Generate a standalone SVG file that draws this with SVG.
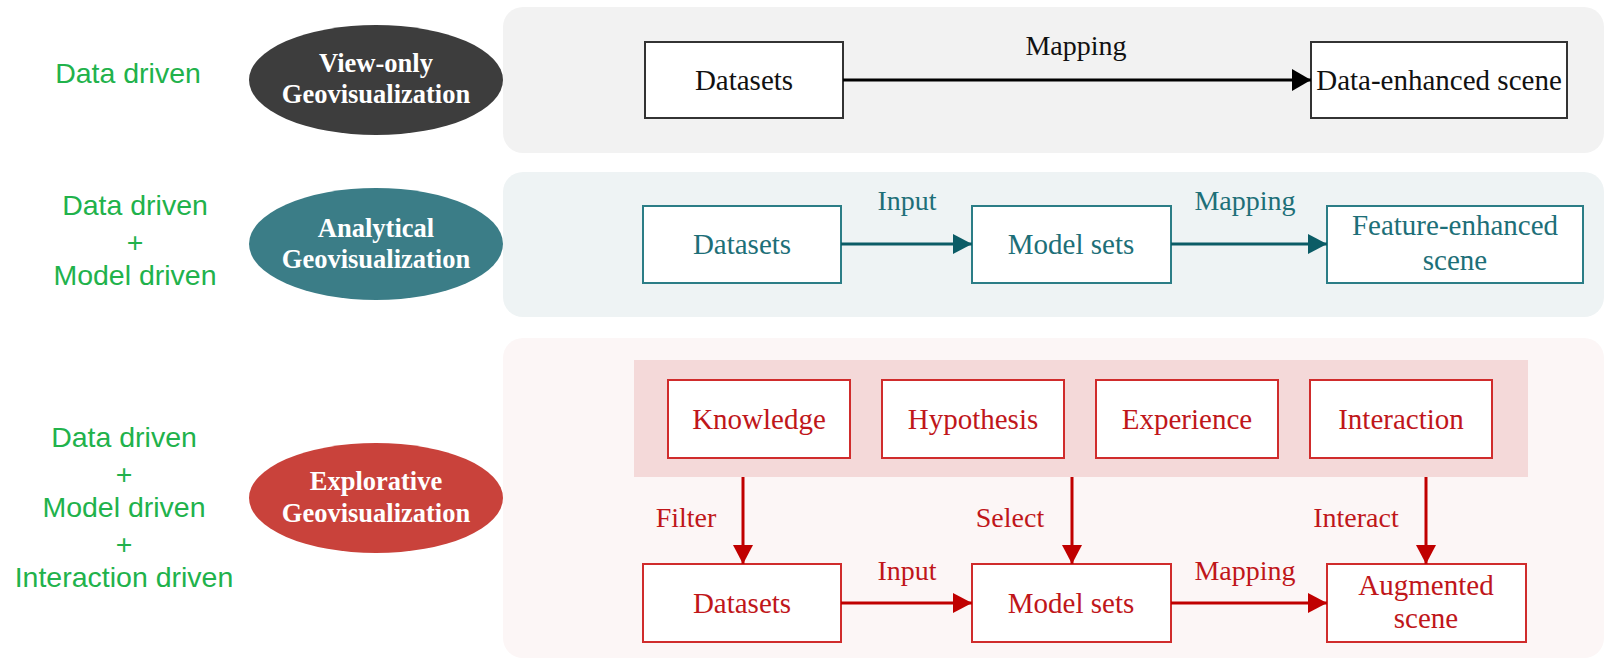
<svg xmlns="http://www.w3.org/2000/svg" width="1605" height="659" viewBox="0 0 1605 659">
<defs>
<marker id="ahK" markerUnits="userSpaceOnUse" markerWidth="20" markerHeight="22" refX="19" refY="11" orient="auto"><path d="M0,0 L19,11 L0,22 z" fill="#000"/></marker>
<marker id="ahT" markerUnits="userSpaceOnUse" markerWidth="20" markerHeight="20" refX="19" refY="10" orient="auto"><path d="M0,0 L19,10 L0,20 z" fill="#0b5c66"/></marker>
<marker id="ahR" markerUnits="userSpaceOnUse" markerWidth="20" markerHeight="20" refX="19" refY="10" orient="auto"><path d="M0,0 L19,10 L0,20 z" fill="#c00000"/></marker>
<style>
.green{font-family:"Liberation Sans",Arial,sans-serif;font-size:28.5px;fill:#21b24b;text-anchor:middle}
.ell{font-family:"Liberation Serif","Times New Roman",serif;font-size:26.5px;font-weight:bold;fill:#fff;text-anchor:middle}
.lbl{font-family:"Liberation Serif","Times New Roman",serif;font-size:29px;text-anchor:middle}
.elbl{font-family:"Liberation Serif","Times New Roman",serif;font-size:28px;text-anchor:middle}
.bK{fill:#fff;stroke:#333;stroke-width:2}
.bT{fill:#fff;stroke:#2b7d86;stroke-width:2}
.bR{fill:#fff;stroke:#d02c2c;stroke-width:2}
.tK{fill:#111}
.tT{fill:#1d6f78}
.tR{fill:#c0161a}
.aK{stroke:#000;stroke-width:3;fill:none}
.aT{stroke:#0b5c66;stroke-width:3;fill:none}
.aR{stroke:#c00000;stroke-width:3;fill:none}
</style>
</defs>
<rect width="1605" height="659" fill="#fff"/>

<g id="panels">
<rect x="503" y="7" width="1101" height="146" rx="20" fill="#f2f2f2"/>
<rect x="503" y="172" width="1101" height="145" rx="20" fill="#eef3f4"/>
<rect x="503" y="338" width="1101" height="320" rx="20" fill="#fcf6f6"/>
<rect x="634" y="360" width="894" height="117" fill="#f4d9d9"/>
</g>

<g id="drivers">
<text class="green" x="128" y="83">Data driven</text>
<text class="green" x="135" y="215">Data driven</text>
<text class="green" x="135" y="252">+</text>
<text class="green" x="135" y="285">Model driven</text>
<text class="green" x="124" y="447">Data driven</text>
<text class="green" x="124" y="484">+</text>
<text class="green" x="124" y="517">Model driven</text>
<text class="green" x="124" y="554">+</text>
<text class="green" x="124" y="587">Interaction driven</text>
</g>

<g id="ell-viewonly">
<ellipse cx="376" cy="80" rx="127" ry="55" fill="#3d3d3d"/>
<text class="ell" x="376" y="72">View-only</text>
<text class="ell" x="376" y="103">Geovisualization</text>
</g>
<g id="ell-analytical">
<ellipse cx="376" cy="244" rx="127" ry="56" fill="#3b7d87"/>
<text class="ell" x="376" y="237">Analytical</text>
<text class="ell" x="376" y="268">Geovisualization</text>
</g>
<g id="ell-explorative">
<ellipse cx="376" cy="498" rx="127" ry="55" fill="#c9423b"/>
<text class="ell" x="376" y="490">Explorative</text>
<text class="ell" x="376" y="522">Geovisualization</text>
</g>

<g id="n1-datasets"><rect class="bK" x="645" y="42" width="198" height="76"/><text class="lbl tK" x="744" y="90">Datasets</text></g>
<g id="n1-scene"><rect class="bK" x="1311" y="42" width="256" height="76"/><text class="lbl tK" x="1439" y="90">Data-enhanced scene</text></g>

<g id="n2-datasets"><rect class="bT" x="643" y="206" width="198" height="77"/><text class="lbl tT" x="742" y="254">Datasets</text></g>
<g id="n2-model"><rect class="bT" x="972" y="206" width="199" height="77"/><text class="lbl tT" x="1071" y="254">Model sets</text></g>
<g id="n2-scene"><rect class="bT" x="1327" y="206" width="256" height="77"/><text class="lbl tT" x="1455" y="235">Feature-enhanced</text><text class="lbl tT" x="1455" y="270">scene</text></g>

<g id="n3-knowledge"><rect class="bR" x="668" y="380" width="182" height="78"/><text class="lbl tR" x="759" y="429">Knowledge</text></g>
<g id="n3-hypothesis"><rect class="bR" x="882" y="380" width="182" height="78"/><text class="lbl tR" x="973" y="429">Hypothesis</text></g>
<g id="n3-experience"><rect class="bR" x="1096" y="380" width="182" height="78"/><text class="lbl tR" x="1187" y="429">Experience</text></g>
<g id="n3-interaction"><rect class="bR" x="1310" y="380" width="182" height="78"/><text class="lbl tR" x="1401" y="429">Interaction</text></g>
<g id="n3-datasets"><rect class="bR" x="643" y="564" width="198" height="78"/><text class="lbl tR" x="742" y="613">Datasets</text></g>
<g id="n3-model"><rect class="bR" x="972" y="564" width="199" height="78"/><text class="lbl tR" x="1071" y="613">Model sets</text></g>
<g id="n3-augmented"><rect class="bR" x="1327" y="564" width="199" height="78"/><text class="lbl tR" x="1426" y="595">Augmented</text><text class="lbl tR" x="1426" y="628">scene</text></g>

<g id="connectors">
<line class="aK" x1="843" y1="80" x2="1311" y2="80" marker-end="url(#ahK)"/>
<text class="elbl tK" x="1076" y="55">Mapping</text>

<line class="aT" x1="841" y1="244" x2="972" y2="244" marker-end="url(#ahT)"/>
<text class="elbl tT" x="907" y="210">Input</text>
<line class="aT" x1="1171" y1="244" x2="1327" y2="244" marker-end="url(#ahT)"/>
<text class="elbl tT" x="1245" y="210">Mapping</text>

<line class="aR" x1="841" y1="603" x2="972" y2="603" marker-end="url(#ahR)"/>
<text class="elbl tR" x="907" y="580">Input</text>
<line class="aR" x1="1171" y1="603" x2="1327" y2="603" marker-end="url(#ahR)"/>
<text class="elbl tR" x="1245" y="580">Mapping</text>

<line class="aR" x1="743" y1="477" x2="743" y2="564" marker-end="url(#ahR)"/>
<text class="elbl tR" x="686" y="527">Filter</text>
<line class="aR" x1="1072" y1="477" x2="1072" y2="564" marker-end="url(#ahR)"/>
<text class="elbl tR" x="1010" y="527">Select</text>
<line class="aR" x1="1426" y1="477" x2="1426" y2="564" marker-end="url(#ahR)"/>
<text class="elbl tR" x="1356" y="527">Interact</text>
</g>
</svg>
